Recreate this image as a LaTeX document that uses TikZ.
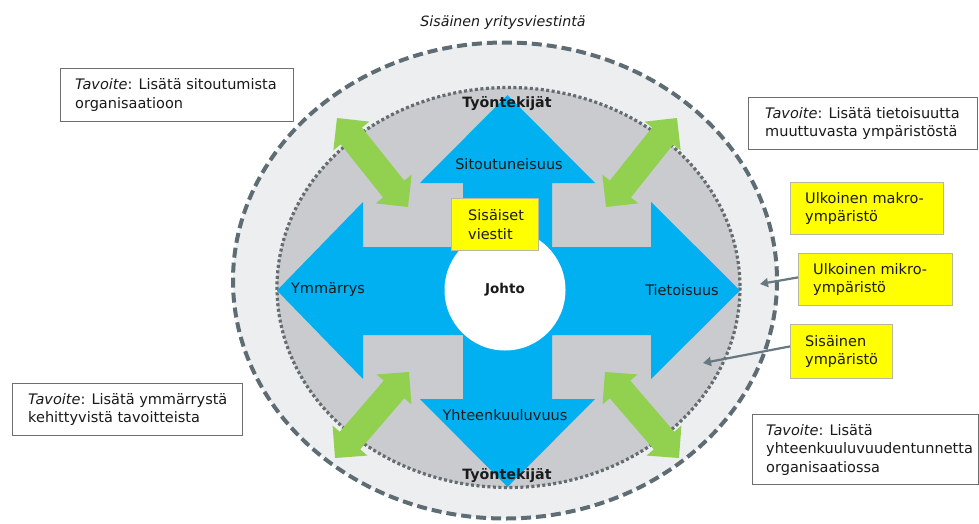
\documentclass[tikz,border=0pt]{standalone}
\usepackage{fontspec}
\setmainfont{DejaVu Sans}
\usetikzlibrary{calc,arrows.meta}
\definecolor{outerfill}{HTML}{EDEEF0}
\definecolor{innerfill}{HTML}{C9CBCE}
\definecolor{dashgray}{HTML}{5E6C74}
\definecolor{dotgray}{HTML}{646C72}
\definecolor{crossblue}{HTML}{00B0F0}
\definecolor{arrowgreen}{HTML}{92D050}
\definecolor{boxyellow}{HTML}{FFFF00}
\definecolor{boxborder}{HTML}{6E6E6E}
\definecolor{yborder}{HTML}{B8B8A0}
\definecolor{pointergray}{HTML}{687880}
\definecolor{textcol}{HTML}{1A1A1A}
\tikzset{
  txt/.style={font=\fontsize{14.5}{18.5}\selectfont, text=textcol, inner sep=0pt, align=left, anchor=west},
  goalbox/.style={draw=boxborder, line width=1.3pt, fill=white, anchor=north west, inner sep=0pt},
  yellowbox/.style={draw=yborder, line width=0.8pt, fill=boxyellow, anchor=north west, inner sep=0pt},
  lbl/.style={font=\fontsize{14.5}{17}\selectfont, text=textcol, inner sep=0pt},
  boldlbl/.style={font=\fontsize{14.2}{17}\selectfont\bfseries, text=textcol, inner sep=0pt},
  pointer/.style={draw=pointergray, line width=2.2pt, -{Triangle[length=8pt,width=9pt]}},
  greenfill/.style={fill=arrowgreen},
}
\newcommand\greenarrow[2]{%
  \coordinate (#1h) at ($(#1)!23pt!(#2)$);
  \coordinate (#2h) at ($(#2)!23pt!(#1)$);
  \fill[greenfill] (#1) -- ($(#1h)!23pt!90:(#2)$) -- ($(#1h)!13.5pt!90:(#2)$)
    -- ($(#2h)!13.5pt!-90:(#1)$) -- ($(#2h)!23pt!-90:(#1)$) -- (#2)
    -- ($(#2h)!23pt!90:(#1)$) -- ($(#2h)!13.5pt!90:(#1)$)
    -- ($(#1h)!13.5pt!-90:(#2)$) -- ($(#1h)!23pt!-90:(#2)$) -- cycle;}
\begin{document}
\begin{tikzpicture}[x=1pt,y=-1pt]
\useasboundingbox (0,0) rectangle (979,523);
% title
\node[lbl, font=\fontsize{14.2}{17}\selectfont\itshape] (title) at (503,23) {Sisäinen yritysviestintä};
% ellipses
\draw[fill=outerfill, draw=dashgray, line width=4pt, dash pattern=on 10pt off 5pt]
  (505,280.5) ellipse [x radius=272, y radius=238];
\draw[fill=innerfill, draw=dotgray, line width=3.2pt, dash pattern=on 3pt off 2.5pt]
  (508.5,287.5) ellipse [x radius=231.5, y radius=200];
% blue cross
\fill[crossblue] (507.5,95) -- (595,183) -- (552,183) -- (552,247) -- (651,247) -- (651,202)
  -- (740,290.5) -- (651,379) -- (651,335) -- (552,335) -- (552,399) -- (595,399)
  -- (507.5,487) -- (420,399) -- (463,399) -- (463,335) -- (363,335) -- (363,379)
  -- (277,290.5) -- (363,202) -- (363,247) -- (463,247) -- (463,183) -- (420,183) -- cycle;
% centre
\node[circle, fill=white, minimum size=121pt, inner sep=0pt, text=textcol, font=\fontsize{13.5}{17}\selectfont\bfseries] (johto) at (505,290) {Johto};
\node[yellowbox, minimum width=87pt, minimum height=52pt] (viestit) at (451,198) {};
\node[txt] (viestitt) at ([xshift=17pt]viestit.west) {Sisäiset\\viestit};
% green arrows
\coordinate (ga1) at (337,118); \coordinate (ga2) at (408,207);
\coordinate (gb1) at (677,118); \coordinate (gb2) at (606,207);
\coordinate (gc1) at (409,372); \coordinate (gc2) at (335,458);
\coordinate (gd1) at (605,372); \coordinate (gd2) at (679,458);
\greenarrow{ga1}{ga2}
\greenarrow{gb1}{gb2}
\greenarrow{gc1}{gc2}
\greenarrow{gd1}{gd2}
% labels
\node[boldlbl] (tyotop) at (507,104) {Työntekijät};
\node[boldlbl] (tyobot) at (507,476) {Työntekijät};
\node[lbl] (sit) at (509,164) {Sitoutuneisuus};
\node[lbl] (yht) at (505,415) {Yhteenkuuluvuus};
\node[lbl] (ymm) at (328,290) {Ymmärrys};
\node[lbl] (tie) at (682,290) {Tietoisuus};
% goal boxes
\node[goalbox, minimum width=233pt, minimum height=53pt] (g1) at (60,68) {};
\node[txt] (g1t) at ([xshift=15pt]g1.west) {\textit{Tavoite}: Lisätä sitoutumista\\organisaatioon};
\node[goalbox, minimum width=230pt, minimum height=52pt] (g2) at (12,383) {};
\node[txt] (g2t) at ([xshift=16pt]g2.west) {\textit{Tavoite}: Lisätä ymmärrystä\\kehittyvistä tavoitteista};
\node[goalbox, minimum width=229pt, minimum height=52pt] (g3) at (748,97) {};
\node[txt] (g3t) at ([xshift=17pt]g3.west) {\textit{Tavoite}: Lisätä tietoisuutta\\muuttuvasta ympäristöstä};
\node[goalbox, minimum width=226pt, minimum height=70pt] (g4) at (752,414) {};
\node[txt] (g4t) at ([xshift=14pt]g4.west) {\textit{Tavoite}: Lisätä\\yhteenkuuluvuudentunnetta\\organisaatiossa};
% yellow boxes right
\node[yellowbox, minimum width=153pt, minimum height=52pt] (makro) at (790,182) {};
\node[txt] (makrot) at ([xshift=15pt]makro.west) {Ulkoinen makro-\\ympäristö};
\node[yellowbox, minimum width=154pt, minimum height=52pt] (mikro) at (798,253) {};
\node[txt] (mikrot) at ([xshift=15pt]mikro.west) {Ulkoinen mikro-\\ympäristö};
\node[yellowbox, minimum width=102pt, minimum height=54pt] (sisa) at (790,324) {};
\node[txt] (sisat) at ([xshift=15pt]sisa.west) {Sisäinen\\ympäristö};
% pointers
\coordinate (mikroend) at (760,284);
\coordinate (sisaend) at (703,363);
\draw[pointer] ([yshift=2pt]mikro.west) -- (mikroend);
\draw[pointer] ([yshift=5pt]sisa.west) -- (sisaend);
\end{tikzpicture}
\end{document}
